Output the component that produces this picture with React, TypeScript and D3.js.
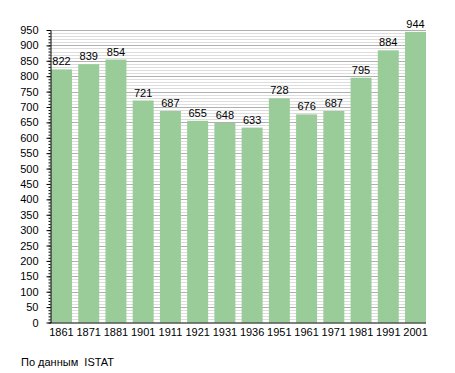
import { useEffect, useRef } from 'react'
import * as d3 from 'd3'

const years = ['1861', '1871', '1881', '1901', '1911', '1921', '1931', '1936', '1951', '1961', '1971', '1981', '1991', '2001']
const population = [822, 839, 854, 721, 687, 655, 648, 633, 728, 676, 687, 795, 884, 944]
const yTicks = d3.range(0, 951, 50)
const minorTicks = d3.range(0, 951, 10)
const sourceNote = 'По данным  ISTAT'

const W = 455
const H = 373
const PLOT = { left: 50, right: 426, top: 30, bottom: 322.5 }
const FONT = '"Liberation Sans", Arial, sans-serif'

export default function App() {
  const svgRef = useRef<SVGSVGElement>(null)

  useEffect(() => {
    const svg = svgRef.current
    if (!svg) return
    const root = d3.select(svg)
    root.selectAll('*').remove()

    const x = d3.scaleBand<string>()
      .domain(years)
      .range([PLOT.left + 1, PLOT.right])
      .paddingInner(0.23)
      .paddingOuter(0)

    const y = d3.scaleLinear().domain([0, 950]).range([PLOT.bottom, PLOT.top])

    // minor grid every 10
    root.append('g')
      .selectAll('line')
      .data(minorTicks.filter(v => v % 50 !== 0))
      .join('line')
      .attr('x1', PLOT.left).attr('x2', PLOT.right)
      .attr('y1', d => Math.round(y(d)) + 0.5).attr('y2', d => Math.round(y(d)) + 0.5)
      .attr('stroke', '#dddddd')
      .attr('stroke-width', 1)

    // major grid every 50
    root.append('g')
      .selectAll('line')
      .data(yTicks.filter(v => v > 0))
      .join('line')
      .attr('x1', PLOT.left).attr('x2', PLOT.right)
      .attr('y1', d => Math.round(y(d)) + 0.5).attr('y2', d => Math.round(y(d)) + 0.5)
      .attr('stroke', '#b0b0b0')
      .attr('stroke-width', 1)

    // bars
    root.append('g')
      .selectAll('rect')
      .data(population)
      .join('rect')
      .attr('x', (_, i) => x(years[i]) ?? 0)
      .attr('width', x.bandwidth())
      .attr('y', d => y(d))
      .attr('height', d => y(0) - y(d))
      .attr('fill', '#99cc99')

    // value labels
    root.append('g')
      .selectAll('text')
      .data(population)
      .join('text')
      .attr('x', (_, i) => (x(years[i]) ?? 0) + x.bandwidth() / 2)
      .attr('y', d => y(d) - 4)
      .attr('text-anchor', 'middle')
      .attr('font-family', FONT)
      .attr('font-size', 11)
      .attr('fill', '#000')
      .text(d => d)

    // y axis with minor ticks
    const yAxis = root.append('g').attr('transform', `translate(${PLOT.left + 0.5},0)`)
    yAxis.call(d3.axisLeft(y).tickValues(minorTicks).tickSize(2).tickFormat(() => ''))
      .call(sel => sel.select('.domain').remove())
      .call(sel => sel.selectAll('line').attr('stroke', '#000'))
    yAxis.append('g')
      .call(d3.axisLeft(y).tickValues(yTicks).tickSize(4).tickPadding(8).tickSizeOuter(0))
      .call(sel => sel.select('.domain').attr('stroke', '#000'))
      .call(sel => sel.selectAll('line').attr('stroke', '#000'))
      .call(sel => sel.selectAll('text').attr('fill', '#000').attr('font-family', FONT).attr('font-size', 11))

    // x axis
    root.append('g')
      .attr('transform', `translate(0,${PLOT.bottom + 0.5})`)
      .call(d3.axisBottom(x).tickSize(0).tickPadding(5).tickSizeOuter(0))
      .call(sel => sel.select('.domain').attr('stroke', '#000').attr('d', `M${PLOT.left},0H${PLOT.right}`))
      .call(sel => sel.selectAll('text').attr('fill', '#000').attr('font-family', FONT).attr('font-size', 11))

    root.append('text')
      .attr('x', 21)
      .attr('y', 366)
      .attr('font-family', FONT)
      .attr('font-size', 11)
      .attr('fill', '#000')
      .style('white-space', 'pre')
      .text(sourceNote)
  }, [])

  return (
    <svg
      ref={svgRef}
      width={W}
      height={H}
      style={{ position: 'absolute', left: 0, top: 0, background: '#fff' }}
    />
  )
}
